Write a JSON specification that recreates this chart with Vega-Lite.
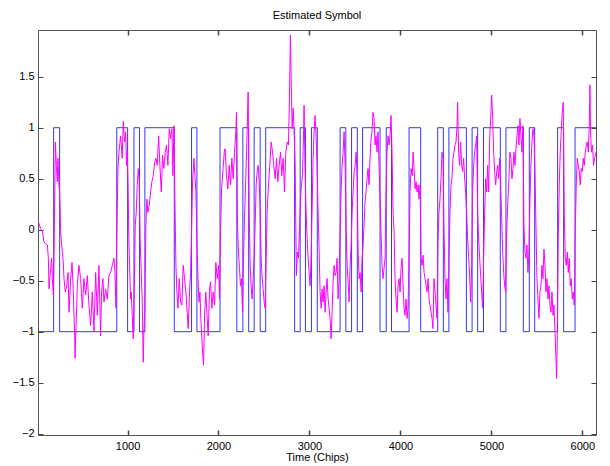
{
  "$schema": "https://vega.github.io/schema/vega-lite/v6.json",
  "width": 558,
  "height": 405,
  "autosize": {"type": "none"},
  "padding": {"left": 38, "top": 30, "right": 14, "bottom": 31},
  "background": "white",
  "title": {"text": "Estimated Symbol", "fontSize": 11, "font": "Liberation Sans", "fontWeight": "normal", "color": "#000000", "offset": 8},
  "config": {
    "view": {"stroke": "#555555", "strokeWidth": 1},
    "axis": {"grid": false, "domain": false, "ticks": true, "tickColor": "#444444", "tickWidth": 1, "tickSize": -5, "labelFont": "Liberation Sans", "labelFontSize": 11, "labelColor": "#000000", "titleFont": "Liberation Sans", "titleFontSize": 11, "titleFontWeight": "normal", "titleColor": "#000000"}
  },
  "resolve": {"axis": {"x": "independent", "y": "independent"}},
  "datasets": {
    "sym": [
      {"t": 16, "s": -1}, {"t": 188, "s": 1}, {"t": 254, "s": -1}, {"t": 882, "s": 1}, {"t": 1001, "s": -1},
      {"t": 1071, "s": 1}, {"t": 1132, "s": -1}, {"t": 1191, "s": 1}, {"t": 1514, "s": -1}, {"t": 1704, "s": 1},
      {"t": 1763, "s": -1}, {"t": 2017, "s": 1}, {"t": 2202, "s": -1}, {"t": 2268, "s": 1}, {"t": 2332, "s": -1},
      {"t": 2392, "s": 1}, {"t": 2458, "s": -1}, {"t": 2519, "s": 1}, {"t": 2837, "s": -1}, {"t": 2898, "s": 1},
      {"t": 2956, "s": -1}, {"t": 3022, "s": 1}, {"t": 3086, "s": -1}, {"t": 3337, "s": 1}, {"t": 3400, "s": -1},
      {"t": 3463, "s": 1}, {"t": 3526, "s": -1}, {"t": 3584, "s": 1}, {"t": 3776, "s": -1}, {"t": 3844, "s": 1},
      {"t": 3902, "s": -1}, {"t": 4095, "s": 1}, {"t": 4223, "s": -1}, {"t": 4410, "s": 1}, {"t": 4472, "s": -1},
      {"t": 4533, "s": 1}, {"t": 4725, "s": -1}, {"t": 4788, "s": 1}, {"t": 4849, "s": -1}, {"t": 4913, "s": 1},
      {"t": 5098, "s": -1}, {"t": 5160, "s": 1}, {"t": 5351, "s": -1}, {"t": 5417, "s": 1}, {"t": 5476, "s": -1},
      {"t": 5728, "s": 1}, {"t": 5794, "s": -1}, {"t": 5920, "s": 1}, {"t": 6150, "s": 1}
    ],
    "est": [
      {"t": 16, "v": 0.09}, {"t": 45, "v": 0.01}, {"t": 64, "v": -0.01}, {"t": 82, "v": -0.12}, {"t": 100, "v": -0.14}, {"t": 119, "v": -0.15}, {"t": 130, "v": -0.28}, {"t": 137, "v": -0.58}, {"t": 155, "v": -0.38}, {"t": 166, "v": -0.28}, {"t": 174, "v": -0.48}, {"t": 185, "v": -0.64}, {"t": 192, "v": -0.25}, {"t": 207, "v": 0.86}, {"t": 218, "v": 0.63}, {"t": 228, "v": 0.47}, {"t": 236, "v": 0.70}, {"t": 247, "v": 0.43}, {"t": 254, "v": 0.37}, {"t": 265, "v": -0.02}, {"t": 276, "v": -0.15}, {"t": 291, "v": -0.28}, {"t": 302, "v": -0.48}, {"t": 316, "v": -0.61}, {"t": 331, "v": -0.55}, {"t": 346, "v": -0.42}, {"t": 357, "v": -0.81}, {"t": 375, "v": -0.48}, {"t": 390, "v": -0.32}, {"t": 404, "v": -0.61}, {"t": 419, "v": -1.04}, {"t": 423, "v": -1.26}, {"t": 437, "v": -0.87}, {"t": 448, "v": -0.55}, {"t": 466, "v": -0.35}, {"t": 485, "v": -0.48}, {"t": 503, "v": -0.77}, {"t": 521, "v": -0.48}, {"t": 540, "v": -0.64}, {"t": 558, "v": -0.45}, {"t": 576, "v": -0.74}, {"t": 595, "v": -0.94}, {"t": 613, "v": -0.61}, {"t": 631, "v": -1.0}, {"t": 650, "v": -0.42}, {"t": 668, "v": -0.84}, {"t": 686, "v": -0.35}, {"t": 704, "v": -1.04}, {"t": 715, "v": -0.61}, {"t": 730, "v": -0.48}, {"t": 741, "v": -0.71}, {"t": 759, "v": -0.58}, {"t": 778, "v": -0.68}, {"t": 796, "v": -0.45}, {"t": 814, "v": -0.42}, {"t": 833, "v": -0.35}, {"t": 851, "v": -0.28}, {"t": 862, "v": -0.42}, {"t": 873, "v": -0.77}, {"t": 880, "v": -0.15}, {"t": 895, "v": 0.60}, {"t": 906, "v": 0.76}, {"t": 924, "v": 0.92}, {"t": 942, "v": 0.70}, {"t": 953, "v": 1.06}, {"t": 968, "v": 0.86}, {"t": 979, "v": 0.96}, {"t": 990, "v": 0.63}, {"t": 997, "v": 0.76}, {"t": 1005, "v": 0.50}, {"t": 1016, "v": -0.15}, {"t": 1034, "v": -0.68},
      {"t": 1041, "v": -0.61}, {"t": 1052, "v": -0.84}, {"t": 1063, "v": -1.07}, {"t": 1074, "v": -0.61}, {"t": 1085, "v": 0.04}, {"t": 1096, "v": 0.17}, {"t": 1107, "v": 0.44}, {"t": 1118, "v": 0.60}, {"t": 1129, "v": 0.47}, {"t": 1140, "v": -0.12}, {"t": 1151, "v": -0.42}, {"t": 1162, "v": -0.71}, {"t": 1173, "v": -1.30}, {"t": 1180, "v": -1.0}, {"t": 1191, "v": -0.77}, {"t": 1202, "v": 0.04}, {"t": 1213, "v": 0.30}, {"t": 1224, "v": 0.17}, {"t": 1239, "v": 0.24}, {"t": 1254, "v": 0.37}, {"t": 1268, "v": 0.47}, {"t": 1283, "v": 0.53}, {"t": 1298, "v": 0.66}, {"t": 1312, "v": 0.70}, {"t": 1327, "v": 0.63}, {"t": 1342, "v": 0.92}, {"t": 1356, "v": 0.63}, {"t": 1371, "v": 0.37}, {"t": 1385, "v": 0.73}, {"t": 1400, "v": 0.60}, {"t": 1415, "v": 0.76}, {"t": 1429, "v": 0.83}, {"t": 1444, "v": 0.63}, {"t": 1459, "v": 0.99}, {"t": 1473, "v": 0.89}, {"t": 1488, "v": 0.99}, {"t": 1499, "v": 0.53}, {"t": 1510, "v": 1.02}, {"t": 1521, "v": 0.30}, {"t": 1532, "v": -0.35}, {"t": 1543, "v": -0.61}, {"t": 1554, "v": -0.77}, {"t": 1569, "v": -0.48}, {"t": 1583, "v": -0.71}, {"t": 1598, "v": -0.74}, {"t": 1612, "v": -0.35}, {"t": 1627, "v": -0.48}, {"t": 1642, "v": -0.61}, {"t": 1656, "v": -0.81}, {"t": 1667, "v": -0.97}, {"t": 1682, "v": -0.61}, {"t": 1693, "v": -0.42}, {"t": 1704, "v": -0.02}, {"t": 1715, "v": 0.47}, {"t": 1730, "v": 0.70}, {"t": 1741, "v": 0.53}, {"t": 1752, "v": 0.37}, {"t": 1763, "v": -0.09}, {"t": 1774, "v": -0.45}, {"t": 1785, "v": -0.71}, {"t": 1796, "v": -0.61}, {"t": 1806, "v": -0.87}, {"t": 1821, "v": -1.13}, {"t": 1836, "v": -1.33}, {"t": 1847, "v": -0.84}, {"t": 1861, "v": -0.61}, {"t": 1876, "v": -0.87}, {"t": 1887, "v": -1.04}, {"t": 1902, "v": -0.58}, {"t": 1913, "v": -0.51}, {"t": 1927, "v": -0.77}, {"t": 1942, "v": -0.61}, {"t": 1957, "v": -0.74}, {"t": 1971, "v": -0.32}, {"t": 1986, "v": -0.48}, {"t": 2001, "v": -0.35}, {"t": 2012, "v": -0.68}, {"t": 2022, "v": -0.02}, {"t": 2034, "v": 0.40}, {"t": 2048, "v": 0.57}, {"t": 2066, "v": 0.79},
      {"t": 2074, "v": 0.79}, {"t": 2088, "v": 0.53}, {"t": 2103, "v": 0.40}, {"t": 2118, "v": 0.63}, {"t": 2132, "v": 0.44}, {"t": 2147, "v": 0.70}, {"t": 2162, "v": 0.50}, {"t": 2176, "v": 0.76}, {"t": 2191, "v": 0.96}, {"t": 2198, "v": 1.15}, {"t": 2209, "v": 0.04}, {"t": 2220, "v": -0.22}, {"t": 2231, "v": -0.38}, {"t": 2242, "v": -0.55}, {"t": 2253, "v": -0.48}, {"t": 2264, "v": -0.81}, {"t": 2275, "v": -0.28}, {"t": 2286, "v": 0.11}, {"t": 2301, "v": 0.53}, {"t": 2315, "v": 0.96}, {"t": 2326, "v": 1.35}, {"t": 2337, "v": 0.21}, {"t": 2348, "v": -0.35}, {"t": 2359, "v": -0.55}, {"t": 2370, "v": -0.68}, {"t": 2381, "v": -0.48}, {"t": 2392, "v": -0.28}, {"t": 2403, "v": 0.04}, {"t": 2414, "v": 0.44}, {"t": 2425, "v": 0.57}, {"t": 2436, "v": 0.63}, {"t": 2447, "v": 0.47}, {"t": 2458, "v": 0.21}, {"t": 2469, "v": -0.28}, {"t": 2480, "v": -0.48}, {"t": 2491, "v": -0.58}, {"t": 2502, "v": -0.71}, {"t": 2513, "v": -0.77}, {"t": 2524, "v": -0.28}, {"t": 2535, "v": 0.17}, {"t": 2550, "v": 0.44}, {"t": 2564, "v": 0.63}, {"t": 2579, "v": 0.86}, {"t": 2594, "v": 0.76}, {"t": 2608, "v": 0.63}, {"t": 2623, "v": 0.50}, {"t": 2638, "v": 0.70}, {"t": 2652, "v": 0.47}, {"t": 2667, "v": 0.63}, {"t": 2682, "v": 0.76}, {"t": 2696, "v": 0.53}, {"t": 2711, "v": 0.70}, {"t": 2726, "v": 0.37}, {"t": 2740, "v": 0.76}, {"t": 2755, "v": 0.86}, {"t": 2769, "v": 0.83}, {"t": 2780, "v": 1.28}, {"t": 2791, "v": 1.91}, {"t": 2799, "v": 1.48}, {"t": 2810, "v": 0.99}, {"t": 2821, "v": 1.19}, {"t": 2832, "v": 0.96}, {"t": 2843, "v": 0.63}, {"t": 2850, "v": 0.04}, {"t": 2857, "v": -0.45}, {"t": 2868, "v": -0.22}, {"t": 2879, "v": -0.28}, {"t": 2890, "v": -0.02}, {"t": 2901, "v": 0.30}, {"t": 2912, "v": 0.44}, {"t": 2923, "v": 0.53}, {"t": 2934, "v": 0.89}, {"t": 2941, "v": 1.22}, {"t": 2952, "v": 0.57}, {"t": 2963, "v": 0.17}, {"t": 2975, "v": -0.09}, {"t": 2985, "v": -0.28}, {"t": 2996, "v": -0.42}, {"t": 3007, "v": -0.55}, {"t": 3018, "v": -0.28}, {"t": 3029, "v": 0.17}, {"t": 3040, "v": 0.70}, {"t": 3051, "v": 0.96}, {"t": 3062, "v": 1.12}, {"t": 3073, "v": 0.92}, {"t": 3084, "v": 0.63}, {"t": 3095, "v": 0.17},
      {"t": 3106, "v": -0.19}, {"t": 3117, "v": -0.61}, {"t": 3128, "v": -0.77}, {"t": 3139, "v": -0.58}, {"t": 3150, "v": -0.71}, {"t": 3161, "v": -0.55}, {"t": 3172, "v": -0.81}, {"t": 3183, "v": -0.61}, {"t": 3194, "v": -0.48}, {"t": 3205, "v": -0.68}, {"t": 3216, "v": -0.77}, {"t": 3227, "v": -0.87}, {"t": 3238, "v": -1.07}, {"t": 3249, "v": -0.81}, {"t": 3260, "v": -0.51}, {"t": 3271, "v": -0.35}, {"t": 3282, "v": -0.45}, {"t": 3293, "v": -0.42}, {"t": 3304, "v": -0.28}, {"t": 3315, "v": -0.68}, {"t": 3326, "v": -0.48}, {"t": 3337, "v": -0.02}, {"t": 3348, "v": 0.37}, {"t": 3359, "v": 0.63}, {"t": 3370, "v": 0.76}, {"t": 3381, "v": 0.96}, {"t": 3392, "v": 0.63}, {"t": 3403, "v": 0.04}, {"t": 3414, "v": -0.35}, {"t": 3425, "v": -0.51}, {"t": 3436, "v": -0.71}, {"t": 3447, "v": -0.35}, {"t": 3458, "v": -0.15}, {"t": 3469, "v": 0.17}, {"t": 3480, "v": 0.37}, {"t": 3491, "v": 0.57}, {"t": 3502, "v": 0.63}, {"t": 3513, "v": 0.76}, {"t": 3524, "v": 0.53}, {"t": 3535, "v": -0.22}, {"t": 3546, "v": -0.48}, {"t": 3557, "v": -0.42}, {"t": 3568, "v": -0.61}, {"t": 3578, "v": -0.28}, {"t": 3590, "v": -0.15}, {"t": 3600, "v": 0.04}, {"t": 3611, "v": 0.27}, {"t": 3622, "v": 0.37}, {"t": 3633, "v": 0.50}, {"t": 3644, "v": 0.60}, {"t": 3655, "v": 0.44}, {"t": 3666, "v": 0.70}, {"t": 3677, "v": 0.89}, {"t": 3688, "v": 0.96}, {"t": 3699, "v": 1.15}, {"t": 3710, "v": 1.09}, {"t": 3721, "v": 0.83}, {"t": 3732, "v": 0.92}, {"t": 3743, "v": 0.76}, {"t": 3754, "v": 0.96}, {"t": 3765, "v": 0.63}, {"t": 3776, "v": 0.30}, {"t": 3787, "v": -0.02}, {"t": 3798, "v": -0.35}, {"t": 3809, "v": -0.48}, {"t": 3820, "v": -0.38}, {"t": 3831, "v": -0.28}, {"t": 3842, "v": 0.37}, {"t": 3853, "v": 0.76}, {"t": 3864, "v": 0.92}, {"t": 3875, "v": 0.83}, {"t": 3886, "v": 0.92}, {"t": 3897, "v": 1.12}, {"t": 3908, "v": 0.76}, {"t": 3919, "v": 0.17}, {"t": 3930, "v": -0.02}, {"t": 3941, "v": -0.48}, {"t": 3952, "v": -0.68}, {"t": 3963, "v": -0.81}, {"t": 3974, "v": -0.55}, {"t": 3985, "v": -0.48}, {"t": 3996, "v": -0.61}, {"t": 4007, "v": -0.38}, {"t": 4018, "v": -0.28}, {"t": 4029, "v": -0.55}, {"t": 4040, "v": -0.77}, {"t": 4051, "v": -0.84}, {"t": 4062, "v": -0.68}, {"t": 4073, "v": -0.87}, {"t": 4084, "v": -0.77}, {"t": 4095, "v": -0.28}, {"t": 4106, "v": 0.37}, {"t": 4117, "v": 0.60}, {"t": 4131, "v": 0.53},
      {"t": 4139, "v": 0.76}, {"t": 4150, "v": 0.60}, {"t": 4161, "v": 0.40}, {"t": 4172, "v": 0.47}, {"t": 4183, "v": 0.37}, {"t": 4194, "v": 0.44}, {"t": 4205, "v": 0.30}, {"t": 4216, "v": 0.44}, {"t": 4227, "v": -0.28}, {"t": 4238, "v": -0.35}, {"t": 4249, "v": -0.25}, {"t": 4260, "v": -0.42}, {"t": 4271, "v": -0.48}, {"t": 4282, "v": -0.55}, {"t": 4293, "v": -0.61}, {"t": 4304, "v": -0.48}, {"t": 4315, "v": -0.68}, {"t": 4326, "v": -0.74}, {"t": 4337, "v": -0.81}, {"t": 4348, "v": -0.87}, {"t": 4358, "v": -0.97}, {"t": 4369, "v": -0.48}, {"t": 4380, "v": -0.61}, {"t": 4391, "v": -0.74}, {"t": 4402, "v": -0.87}, {"t": 4413, "v": -0.12}, {"t": 4424, "v": 0.17}, {"t": 4435, "v": 0.30}, {"t": 4446, "v": 0.50}, {"t": 4457, "v": 0.76}, {"t": 4468, "v": 0.70}, {"t": 4479, "v": 0.04}, {"t": 4490, "v": -0.48}, {"t": 4501, "v": -0.68}, {"t": 4512, "v": -0.48}, {"t": 4523, "v": -0.81}, {"t": 4534, "v": -0.28}, {"t": 4545, "v": 0.17}, {"t": 4556, "v": 0.44}, {"t": 4567, "v": 0.50}, {"t": 4578, "v": 0.70}, {"t": 4589, "v": 0.76}, {"t": 4600, "v": 0.83}, {"t": 4611, "v": 0.86}, {"t": 4622, "v": 1.02}, {"t": 4629, "v": 1.25}, {"t": 4640, "v": 0.76}, {"t": 4651, "v": 0.63}, {"t": 4662, "v": 0.86}, {"t": 4673, "v": 0.63}, {"t": 4684, "v": 0.57}, {"t": 4695, "v": 0.70}, {"t": 4706, "v": 0.50}, {"t": 4717, "v": 0.37}, {"t": 4728, "v": 0.17}, {"t": 4739, "v": -0.09}, {"t": 4750, "v": -0.28}, {"t": 4761, "v": -0.45}, {"t": 4772, "v": -0.71}, {"t": 4783, "v": -0.35}, {"t": 4794, "v": 0.37}, {"t": 4805, "v": 0.63}, {"t": 4816, "v": 0.76}, {"t": 4827, "v": 0.83}, {"t": 4838, "v": 0.92}, {"t": 4849, "v": 0.17}, {"t": 4860, "v": -0.09}, {"t": 4871, "v": -0.28}, {"t": 4882, "v": -0.45}, {"t": 4893, "v": -0.61}, {"t": 4904, "v": -0.77}, {"t": 4915, "v": -0.28}, {"t": 4926, "v": 0.17}, {"t": 4937, "v": 0.50}, {"t": 4948, "v": 0.37}, {"t": 4959, "v": 0.63}, {"t": 4970, "v": 0.37}, {"t": 4981, "v": 0.89}, {"t": 4992, "v": 1.09}, {"t": 5003, "v": 1.32}, {"t": 5014, "v": 1.09}, {"t": 5025, "v": 0.76}, {"t": 5036, "v": 0.57}, {"t": 5047, "v": 0.44}, {"t": 5058, "v": 0.57}, {"t": 5069, "v": 0.63}, {"t": 5080, "v": 0.50}, {"t": 5091, "v": 0.70}, {"t": 5102, "v": 0.44}, {"t": 5113, "v": 0.11}, {"t": 5124, "v": -0.22}, {"t": 5135, "v": -0.42}, {"t": 5146, "v": -0.55}, {"t": 5157, "v": -0.61}, {"t": 5168, "v": -0.02},
      {"t": 5182, "v": 0.30}, {"t": 5193, "v": 0.50}, {"t": 5204, "v": 0.76}, {"t": 5215, "v": 0.70}, {"t": 5226, "v": 0.50}, {"t": 5237, "v": 0.60}, {"t": 5248, "v": 0.76}, {"t": 5259, "v": 0.63}, {"t": 5270, "v": 0.79}, {"t": 5281, "v": 0.92}, {"t": 5292, "v": 1.02}, {"t": 5303, "v": 0.83}, {"t": 5314, "v": 1.09}, {"t": 5325, "v": 0.92}, {"t": 5336, "v": 0.76}, {"t": 5347, "v": 1.02}, {"t": 5358, "v": 0.04}, {"t": 5369, "v": -0.22}, {"t": 5380, "v": -0.28}, {"t": 5391, "v": -0.15}, {"t": 5402, "v": -0.42}, {"t": 5413, "v": -0.22}, {"t": 5424, "v": 0.30}, {"t": 5435, "v": 0.63}, {"t": 5446, "v": 0.86}, {"t": 5457, "v": 0.99}, {"t": 5468, "v": 0.92}, {"t": 5479, "v": 0.57}, {"t": 5490, "v": 0.04}, {"t": 5501, "v": -0.48}, {"t": 5512, "v": -0.68}, {"t": 5523, "v": -0.87}, {"t": 5534, "v": -0.61}, {"t": 5545, "v": -0.55}, {"t": 5556, "v": -0.35}, {"t": 5567, "v": -0.48}, {"t": 5578, "v": -0.19}, {"t": 5589, "v": -0.35}, {"t": 5600, "v": -0.61}, {"t": 5611, "v": -0.48}, {"t": 5622, "v": -0.68}, {"t": 5633, "v": -0.55}, {"t": 5644, "v": -0.74}, {"t": 5655, "v": -0.81}, {"t": 5666, "v": -0.61}, {"t": 5677, "v": -0.84}, {"t": 5688, "v": -0.74}, {"t": 5699, "v": -1.0}, {"t": 5710, "v": -1.27}, {"t": 5717, "v": -1.46}, {"t": 5724, "v": -1.10}, {"t": 5735, "v": -0.09}, {"t": 5746, "v": 0.44}, {"t": 5757, "v": 0.76}, {"t": 5768, "v": 0.96}, {"t": 5779, "v": 1.15}, {"t": 5790, "v": 1.25}, {"t": 5801, "v": 0.17}, {"t": 5812, "v": -0.28}, {"t": 5823, "v": -0.35}, {"t": 5834, "v": -0.22}, {"t": 5845, "v": -0.42}, {"t": 5856, "v": -0.28}, {"t": 5867, "v": -0.55}, {"t": 5878, "v": -0.48}, {"t": 5889, "v": -0.68}, {"t": 5900, "v": -0.61}, {"t": 5911, "v": -0.74}, {"t": 5922, "v": -0.02}, {"t": 5933, "v": 0.44}, {"t": 5944, "v": 0.70}, {"t": 5955, "v": 0.63}, {"t": 5966, "v": 0.57}, {"t": 5977, "v": 0.44}, {"t": 5988, "v": 0.60}, {"t": 5999, "v": 0.57}, {"t": 6010, "v": 0.70}, {"t": 6021, "v": 0.63}, {"t": 6032, "v": 0.76}, {"t": 6043, "v": 0.83}, {"t": 6054, "v": 0.86}, {"t": 6065, "v": 0.76}, {"t": 6076, "v": 1.02}, {"t": 6083, "v": 1.42}, {"t": 6090, "v": 0.96}, {"t": 6101, "v": 0.76}, {"t": 6112, "v": 0.83}, {"t": 6123, "v": 0.63}, {"t": 6134, "v": 0.70}, {"t": 6150, "v": 0.76}
    ]
  },
  "layer": [
    {
      "data": {"name": "sym"},
      "mark": {"type": "line", "interpolate": "step-after", "color": "#0000ff", "strokeWidth": 0.8, "clip": true},
      "encoding": {
        "x": {"field": "t", "type": "quantitative", "scale": {"domain": [16, 6150], "nice": false, "zero": false},
              "axis": {"orient": "bottom", "values": [1000, 2000, 3000, 4000, 5000, 6000], "format": "d", "title": "Time (Chips)", "ticks": true, "tickSize": -5, "tickWidth": 1.5, "labelPadding": 10, "titlePadding": 0}},
        "y": {"field": "s", "type": "quantitative", "scale": {"domain": [-2.013, 1.958], "nice": false, "zero": false},
              "axis": {"orient": "left", "values": [-2, -1.5, -1, -0.5, 0, 0.5, 1, 1.5], "format": "~g", "title": null, "ticks": true, "tickSize": -5, "labelPadding": 9}}
      }
    },
    {
      "data": {"name": "est"},
      "mark": {"type": "line", "color": "#ff00ff", "strokeWidth": 1, "clip": true},
      "encoding": {
        "x": {"field": "t", "type": "quantitative", "axis": null},
        "y": {"field": "v", "type": "quantitative", "axis": null}
      }
    },
    {
      "data": {"name": "est"},
      "mark": {"type": "point", "opacity": 0},
      "encoding": {
        "x": {"field": "t", "type": "quantitative", "axis": {"orient": "top", "values": [1000, 2000, 3000, 4000, 5000, 6000], "labels": false, "title": null, "ticks": true, "tickSize": -5, "tickColor": "#444444", "tickWidth": 1.5}},
        "y": {"field": "v", "type": "quantitative", "axis": {"orient": "right", "values": [-2, -1.5, -1, -0.5, 0, 0.5, 1, 1.5], "labels": false, "title": null, "ticks": true, "tickSize": -5, "tickColor": "#444444", "tickWidth": 1}}
      }
    }
  ]
}
